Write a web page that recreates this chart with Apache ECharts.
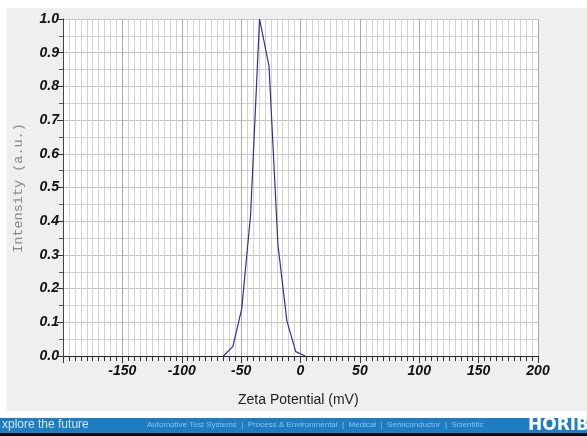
<!DOCTYPE html>
<html>
<head>
    <meta charset="UTF-8">
    <title>Zeta Potential</title>
    <script src="https://cdn.jsdelivr.net/npm/echarts@6/dist/echarts.min.js"></script>
    <style>
        html, body {
            margin: 0;
            padding: 0;
            background: #fff;
        }

        #chart {
            width: 587px;
            height: 436px;
        }
    </style>
</head>
<body>
<div id="chart"></div>
<script>
    // zeta potential (mV) and intensity
    var zetaValues = [-65, -57, -49.5, -42, -34.5, -26.5, -19, -11.5, -4, 4];
    var intensityValues = [0, 0.028, 0.14, 0.42, 1.0, 0.86, 0.33, 0.105, 0.013, 0];

    var xTicks = {min: -200, max: 200, interval: 50};
    var yTicks = {min: 0, max: 1, interval: 0.1};

    var points = [];
    for (var i = 0; i < zetaValues.length; i++) {
        points.push([zetaValues[i], intensityValues[i]]);
    }

    var labelFont = {
        color: '#111',
        fontFamily: 'Liberation Sans',
        fontSize: 14,
        fontWeight: 'bold',
        fontStyle: 'italic'
    };

    var chart = echarts.init(document.getElementById('chart'));
    chart.setOption({
        backgroundColor: '#fff',
        animation: false,
        graphic: [
            {type: 'rect', z: -10, shape: {x: 7, y: 8, width: 580, height: 403}, style: {fill: '#efefef'}},
            {type: 'rect', z: -10, shape: {x: 0, y: 418, width: 587, height: 15}, style: {fill: '#1e7dc2'}},
            {type: 'rect', z: -10, shape: {x: 0, y: 433, width: 587, height: 3}, style: {fill: '#0a0a0a'}},
            {
                type: 'text', left: 2, top: 419,
                style: {text: 'xplore the future', fill: '#cfe6f7', font: '12px "Liberation Sans"'}
            },
            {
                type: 'text', left: 147, top: 421,
                style: {
                    text: 'Automotive Test Systems  |  Process & Environmental  |  Medical  |  Semiconductor  |  Scientific',
                    fill: '#8fc0e4', font: '8px "Liberation Sans"'
                }
            },
            {
                type: 'text', left: 528, top: 417,
                style: {text: 'HORIBA', fill: '#ffffff', font: 'bold 17px "DejaVu Sans"'}
            },
            {
                type: 'text', left: 238, top: 393,
                style: {text: 'Zeta Potential (mV)', fill: '#222', font: '14px "Liberation Sans"'}
            },
            {
                type: 'text', x: 18, y: 188, rotation: Math.PI / 2,
                style: {
                    text: 'Intensity (a.u.)', fill: '#888', font: '13.5px "Liberation Mono"',
                    align: 'center', verticalAlign: 'middle'
                }
            }
        ],
        grid: {
            left: 63,
            right: 49,
            top: 19,
            bottom: 80,
            show: true,
            backgroundColor: '#fff',
            borderWidth: 0
        },
        xAxis: {
            type: 'value',
            min: xTicks.min,
            max: xTicks.max,
            interval: xTicks.interval,
            axisLine: {onZero: false, lineStyle: {color: '#222', width: 1}},
            axisTick: {show: true, inside: false, length: 7, lineStyle: {color: '#333'}},
            minorTick: {show: true, splitNumber: 10, length: 5, lineStyle: {color: '#333'}},
            splitLine: {show: true, lineStyle: {color: '#a9a9a9', width: 1}},
            minorSplitLine: {show: true, lineStyle: {color: '#d2d2d2', width: 1}},
            axisLabel: Object.assign({
                margin: 8,
                formatter: function (v) {
                    return v === xTicks.min ? '' : String(v);
                }
            }, labelFont)
        },
        yAxis: {
            type: 'value',
            min: yTicks.min,
            max: yTicks.max,
            interval: yTicks.interval,
            axisLine: {show: true, onZero: false, lineStyle: {color: '#444', width: 1}},
            axisTick: {show: true, length: 6, lineStyle: {color: '#333'}},
            minorTick: {show: true, splitNumber: 2, length: 4, lineStyle: {color: '#555'}},
            splitLine: {show: true, lineStyle: {color: '#c4c4c4', width: 1}},
            minorSplitLine: {show: true, lineStyle: {color: '#d2d2d2', width: 1}},
            axisLabel: Object.assign({
                margin: 4,
                formatter: function (v) {
                    return v.toFixed(1);
                }
            }, labelFont)
        },
        series: [{
            type: 'line',
            data: points,
            showSymbol: false,
            symbol: 'none',
            lineStyle: {color: '#2e309c', width: 1.2},
            z: 5
        }]
    });
</script>
</body>
</html>
